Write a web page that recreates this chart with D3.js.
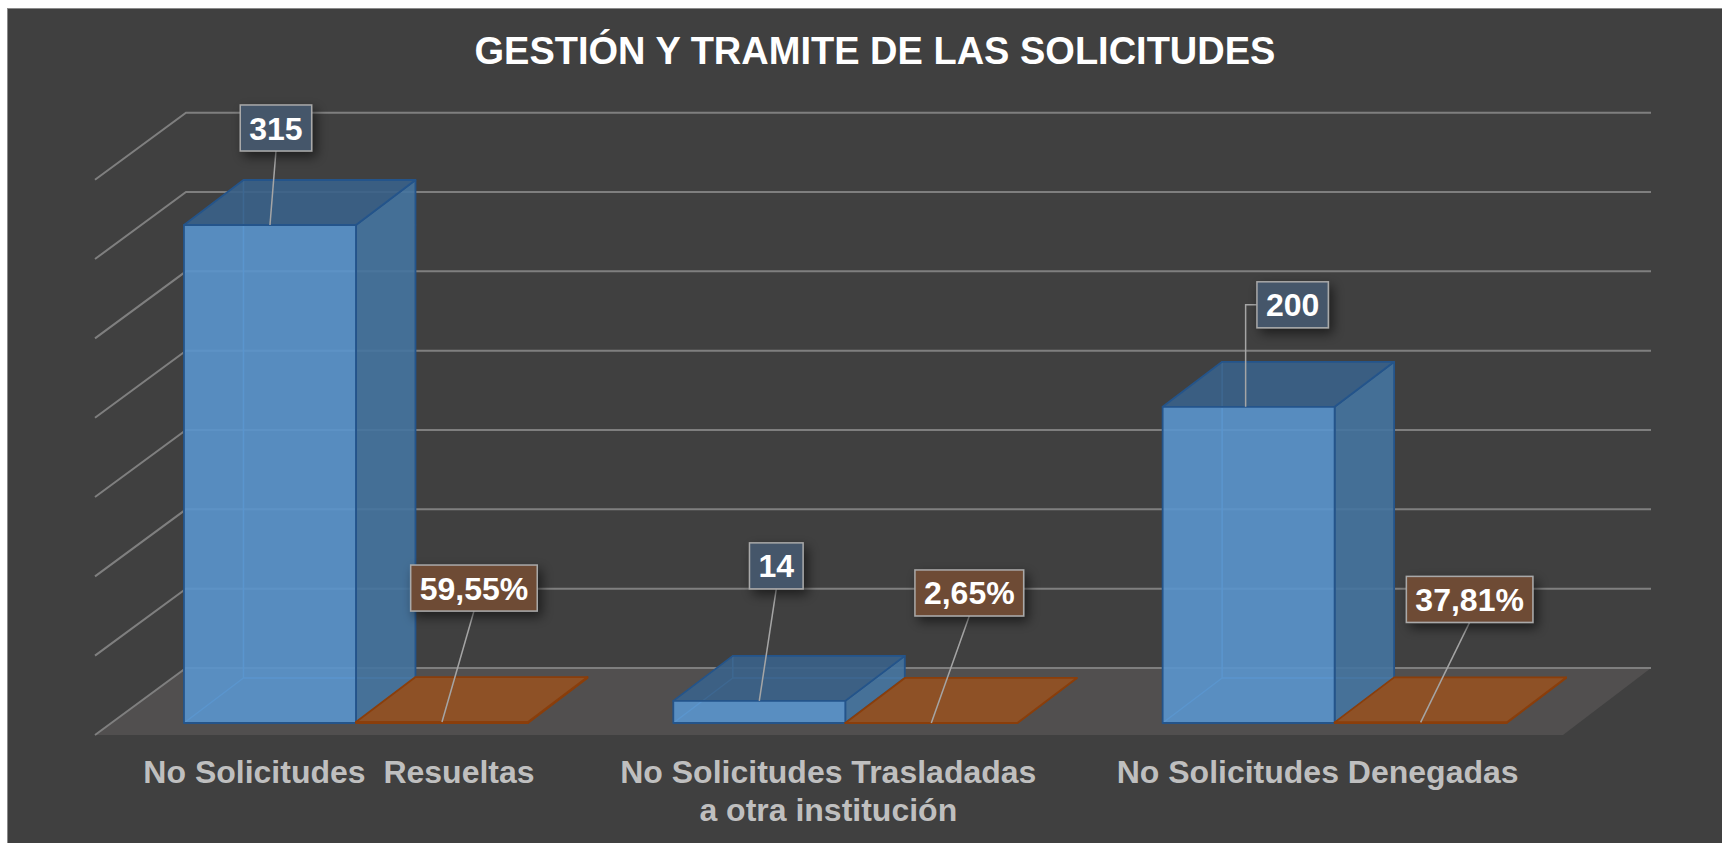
<!DOCTYPE html>
<html>
<head>
<meta charset="utf-8">
<script src="https://cdn.jsdelivr.net/npm/d3@7"></script>
<style>
  html, body { margin: 0; padding: 0; background: #ffffff; }
  svg { display: block; }
  text { font-family: "Liberation Sans", Arial, sans-serif; }
</style>
</head>
<body>
<svg id="chart" width="1722" height="843"></svg>
<script>
// ---------------- DATA ----------------
const title = "GESTIÓN Y TRAMITE DE LAS SOLICITUDES";
const categories = ["No Solicitudes  Resueltas", "No Solicitudes Trasladadas a otra institución", "No Solicitudes Denegadas"];
const categoryLines = [["No Solicitudes  Resueltas"], ["No Solicitudes Trasladadas", "a otra institución"], ["No Solicitudes Denegadas"]];
const series = ["Cantidad", "Porcentaje"];
const cantidad = [315, 14, 200];
const porcentaje = [59.55, 2.65, 37.81];   // plotted as fractions (0–1) on the same axis
const axisMax = 350;
const tickStep = 50;

// label placement (offsets from each bar's front-top centre)
const labelOffsets = {
  Cantidad:   [[6, -97], [17, -135], [44, -102]],
  Porcentaje: [[32, -134], [38, -130], [49, -123]]
};
const elbowLeader = { Cantidad: [false, false, true], Porcentaje: [false, false, false] };

// ---------------- LAYOUT ----------------
const W = 1722, H = 843;
const svg = d3.select("#chart");

const locale = d3.formatLocale({ decimal: ",", thousands: ".", grouping: [3], currency: ["", "€"] });
const fmtPct = v => locale.format(".2f")(v) + "%";

const baseFront = 723;                  // bars' front bottom
const wallLeft = 186, wallRight = 1651;
const wallBase = 668, wallTop = 112.7;
const floorFront = 735;
const sideDx = -91, sideDy = 67;        // wall -> front floor edge
const barDx = 59.5, barDy = -45;        // bar depth

const x = d3.scaleBand().domain(categories).range([111.3, 1579.3]).paddingInner(0.297).paddingOuter(0.1485);
const xs = d3.scaleBand().domain(series).range([0, x.bandwidth()]).padding(0);
const yWall = d3.scaleLinear().domain([0, axisMax]).range([wallBase, wallTop]);
const yFront = d3.scaleLinear().domain([0, axisMax]).range([baseFront, baseFront - axisMax * 1.581]);

// defs
const defs = svg.append("defs");
const f = defs.append("filter").attr("id", "shadow").attr("x", "-30%").attr("y", "-30%").attr("width", "170%").attr("height", "190%");
f.append("feDropShadow").attr("dx", 4).attr("dy", 5).attr("stdDeviation", 6).attr("flood-color", "#000").attr("flood-opacity", 0.55);

// background
svg.append("rect").attr("x", 7.5).attr("y", 8.5).attr("width", W).attr("height", H)
  .attr("fill", "#404040").attr("stroke", "#8a8a8a").attr("stroke-width", 1);

// floor
svg.append("polygon")
  .attr("points", [[wallLeft + sideDx, floorFront], [wallLeft, wallBase], [wallRight, wallBase], [wallRight - 88, floorFront]].map(p => p.join(",")).join(" "))
  .attr("fill", "#514f4f");

// gridlines (back wall + left side diagonals)
const ticks = d3.range(0, axisMax + 1, tickStep);
const grid = svg.append("g").attr("stroke", "#7f7f7f").attr("stroke-width", 2).attr("fill", "none");
ticks.forEach(t => {
  const yy = yWall(t);
  grid.append("polyline")
    .attr("points", `${wallLeft + sideDx},${yy + sideDy} ${wallLeft},${yy} ${wallRight},${yy}`);
});

// 3D box
function box(g, x0, w, h, colors, opts) {
  const y0 = baseFront, yt = y0 - h;
  const pts = a => a.map(p => p.join(",")).join(" ");
  if (opts.hidden) {
    g.append("polyline")
      .attr("points", pts([[x0, y0], [x0 + barDx, y0 + barDy], [x0 + barDx, yt + barDy]]))
      .attr("fill", "none").attr("stroke", opts.hidden).attr("stroke-width", 1.5);
    g.append("line").attr("x1", x0 + barDx).attr("y1", y0 + barDy).attr("x2", x0 + w + barDx).attr("y2", y0 + barDy)
      .attr("stroke", opts.hidden).attr("stroke-width", 1.5);
  }
  const common = s => s.attr("stroke", colors.stroke).attr("stroke-width", opts.sw).attr("stroke-linejoin", "round").attr("fill-opacity", opts.op);
  common(g.append("polygon").attr("points", pts([[x0 + w, yt], [x0 + w + barDx, yt + barDy], [x0 + w + barDx, y0 + barDy], [x0 + w, y0]])).attr("fill", colors.side));
  common(g.append("polygon").attr("points", pts([[x0, yt], [x0 + barDx, yt + barDy], [x0 + w + barDx, yt + barDy], [x0 + w, yt]])).attr("fill", colors.top));
  common(g.append("rect").attr("x", x0).attr("y", yt).attr("width", w).attr("height", Math.max(h, 0.01)).attr("fill", colors.front));
}

const blue = { front: "#5a95cd", top: "#3a6289", side: "#4574a0", stroke: "#24548a" };
const orange = { front: "#8e5126", top: "#8e5126", side: "#8e5126", stroke: "#8a3e0b" };

const bars = svg.append("g");
categories.forEach((c, i) => {
  const xb = x(c) + xs("Cantidad");
  const h = baseFront - yFront(cantidad[i]);
  box(bars.append("g"), xb, xs.bandwidth(), h, blue, { op: 0.9, sw: 1.8, hidden: "#5f9ad3" });
  const xo = x(c) + xs("Porcentaje");
  const ho = baseFront - yFront(porcentaje[i] / 100);
  box(bars.append("g"), xo, xs.bandwidth(), ho, orange, { op: 1, sw: 1.8, hidden: null });
});

// data labels
const labels = svg.append("g");
function dataLabel(ax, ay, off, txt, fill, elbow) {
  const cx = ax + off[0], cy = ay + off[1];
  const g = labels.append("g");
  const t = g.append("text").attr("x", cx).attr("y", cy).attr("dy", "0.36em").attr("text-anchor", "middle")
    .attr("font-size", 32).attr("font-weight", "bold").attr("fill", "#ffffff").text(txt);
  const tw = t.node().getComputedTextLength();
  const bw = tw + 18, bh = 46;
  const bx = cx - bw / 2, by = cy - bh / 2;
  if (elbow) {
    g.insert("polyline", "text").attr("points", `${bx},${cy} ${ax - 3},${cy} ${ax - 3},${ay}`)
      .attr("fill", "none").attr("stroke", "#a5a5a5").attr("stroke-width", 1.5);
  } else {
    g.insert("line", "text").attr("x1", cx).attr("y1", by + bh).attr("x2", ax).attr("y2", ay)
      .attr("stroke", "#a5a5a5").attr("stroke-width", 1.5);
  }
  g.insert("rect", "text").attr("x", bx).attr("y", by).attr("width", bw).attr("height", bh)
    .attr("fill", fill).attr("stroke", "#a9a9a9").attr("stroke-width", 1.5).attr("filter", "url(#shadow)");
}
categories.forEach((c, i) => {
  const w = xs.bandwidth();
  const ax1 = x(c) + xs("Cantidad") + w / 2;
  dataLabel(ax1, yFront(cantidad[i]), labelOffsets.Cantidad[i], String(cantidad[i]), "#44566a", elbowLeader.Cantidad[i]);
  const ax2 = x(c) + xs("Porcentaje") + w / 2;
  dataLabel(ax2, yFront(porcentaje[i] / 100), labelOffsets.Porcentaje[i], fmtPct(porcentaje[i]), "#6e4b35", elbowLeader.Porcentaje[i]);
});

// category labels
const cat = svg.append("g");
categories.forEach((c, i) => {
  const cx = x(c) + x.bandwidth() / 2 - 17;
  const t = cat.append("text").attr("text-anchor", "middle").attr("font-size", 32).attr("font-weight", "bold")
    .attr("fill", "#bfbfbf").style("white-space", "pre");
  categoryLines[i].forEach((ln, j) => {
    t.append("tspan").attr("x", cx).attr("y", 783 + j * 38).text(ln);
  });
});

// title
svg.append("text").attr("x", 875).attr("y", 64).attr("text-anchor", "middle")
  .attr("font-size", 38).attr("font-weight", "bold").attr("fill", "#ffffff").text(title);
</script>
</body>
</html>
